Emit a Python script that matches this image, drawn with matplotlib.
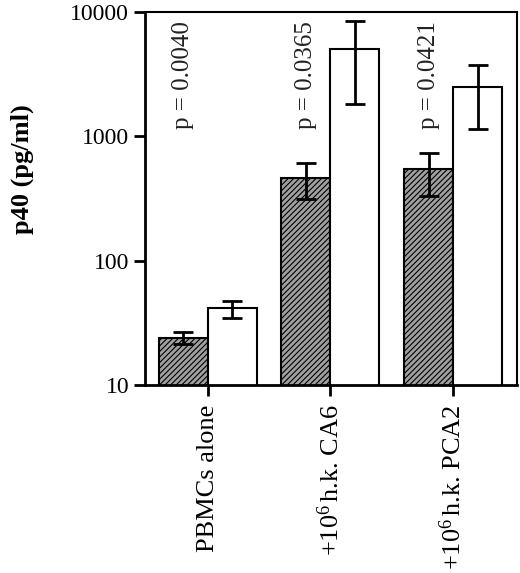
import numpy as np
import matplotlib
matplotlib.use("Agg")
import matplotlib.pyplot as plt

plt.rcParams['font.family'] = ['Liberation Serif', 'DejaVu Serif']
plt.rcParams['mathtext.fontset'] = 'custom'
plt.rcParams['mathtext.rm'] = 'Liberation Serif'
plt.rcParams['mathtext.it'] = 'Liberation Serif:italic'
plt.rcParams['mathtext.bf'] = 'Liberation Serif:bold'
plt.rcParams['hatch.linewidth'] = 0.8

groups = ['PBMCs alone', '+10$\\mathrm{^6}\\,$h.k. CA6', '+10$\\mathrm{^6}\\,$h.k. PCA2']
p_text = ['p = 0.0040', 'p = 0.0365', 'p = 0.0421']

# hatched bars (first series)
hat_val = [24, 460, 547]
hat_lo = [21.4, 313, 333]
hat_hi = [26.5, 608, 735]

# open bars (second series)
open_val = [41.4, 5050, 2483]
open_lo = [34.4, 1822, 1153]
open_hi = [47.4, 8430, 3751]

x = np.arange(len(groups))
w = 0.4

fig = plt.figure(figsize=(5.2, 5.73), dpi=100)
ax = fig.add_axes([0.279, 0.328, 0.715, 0.651])

ax.bar(x - w / 2, hat_val, w, color='#a0a0a0', edgecolor='black',
       hatch='//////', linewidth=1.5, log=True)
ax.bar(x + w / 2, open_val, w, color='white', edgecolor='black',
       linewidth=1.5, log=True)

err1 = [np.array(hat_val) - np.array(hat_lo), np.array(hat_hi) - np.array(hat_val)]
err2 = [np.array(open_val) - np.array(open_lo), np.array(open_hi) - np.array(open_val)]
ax.errorbar(x - w / 2, hat_val, yerr=err1, fmt='none', ecolor='black',
            elinewidth=2, capsize=7, capthick=2)
ax.errorbar(x + w / 2, open_val, yerr=err2, fmt='none', ecolor='black',
            elinewidth=2, capsize=7, capthick=2)

for i, t in enumerate(p_text):
    ax.text(x[i] - w / 2, 8500, t, rotation=90, ha='center', va='top',
            fontsize=18, color='#222222')

ax.set_yscale('log')
ax.set_ylim(10, 10000)
ax.set_xlim(-0.51, 2.52)
ax.set_yticks([10, 100, 1000, 10000])
ax.set_yticklabels(['10', '100', '1000', '10000'])
ax.minorticks_off()
ax.set_xticks(x)
ax.set_xticklabels(groups, rotation=90, fontsize=19)
ax.tick_params(axis='y', labelsize=17, length=8, width=2, direction='out')
ax.tick_params(axis='x', length=8, width=2, direction='out', pad=6)
ax.set_ylabel('p40 (pg/ml)', fontsize=19, fontweight='bold')
ax.yaxis.set_label_coords(-0.30, 0.58)

ax.spines['left'].set_linewidth(2)
ax.spines['bottom'].set_linewidth(2)
ax.spines['top'].set_linewidth(1.5)
ax.spines['right'].set_linewidth(1.5)

fig.savefig('out.png', dpi=100)
